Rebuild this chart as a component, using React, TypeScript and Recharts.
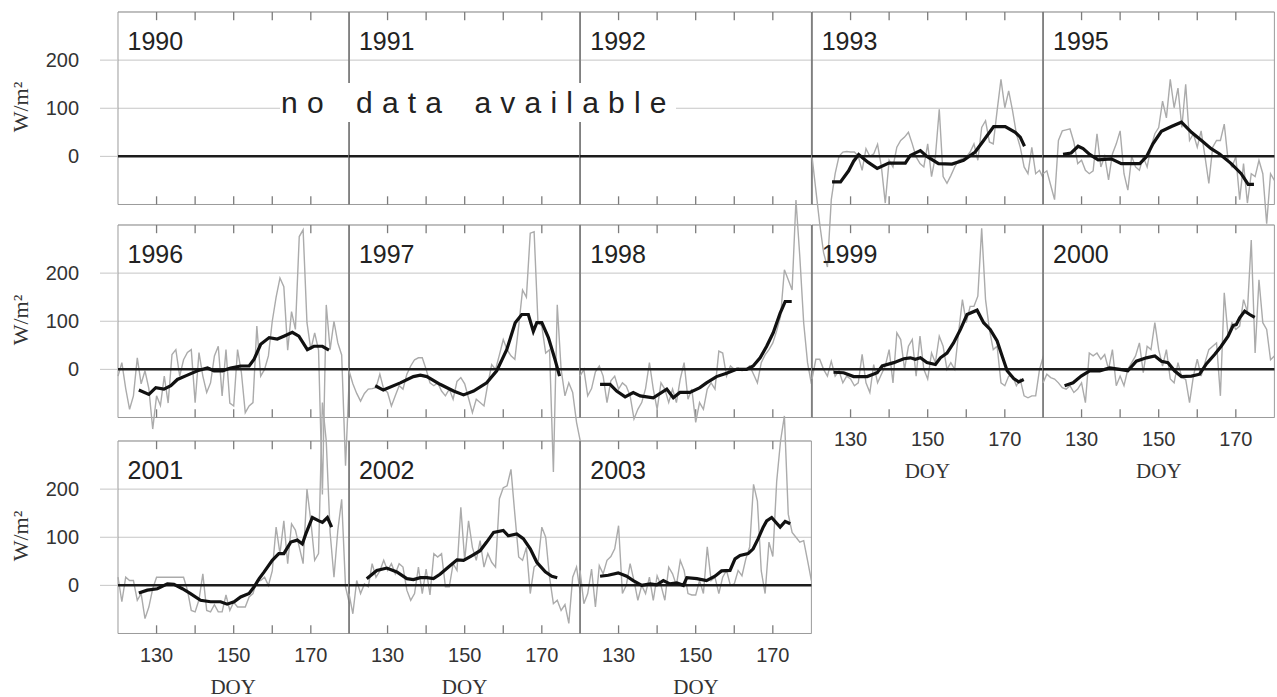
import { CartesianGrid, Line, LineChart, ReferenceArea, ReferenceLine, XAxis, YAxis } from "recharts";

const SANS = "'Liberation Sans', Arial, Helvetica, sans-serif";
const SERIF = "'Liberation Serif', 'Times New Roman', serif";

const FIRST_DOY = 120;
const X_DOMAIN: [number, number] = [120, 180];
const Y_DOMAIN: [number, number] = [-100, 300];
const xTickMarks = [130, 140, 150, 160, 170];
const xTickLabels = [130, 150, 170];
const yTicks = [0, 100, 200];
const TICK_LEN = 17; // inward tick mark length, in W/m²

// daily values (W/m²), DOY 120 .. 180
const gray1993 = [0, -70, -140, -200, -230, -90, -36, 0, 9, 10, 9, 9, 0, -29, 16, 0, 5, 25, -22, -97, -8, -22, 19, 33, 40, 50, 26, -1, -15, -22, 26, -42, 0, 98, -42, -56, -40, -22, -8, -5, -1, 9, 26, -8, 60, 74, 30, 26, 95, 160, 101, 136, 95, 47, 19, -22, -36, 19, -36, -29, -46];
const gray1995 = [-36, -30, -60, -90, 33, 53, 55, 57, 30, -15, -8, -29, -36, -30, 47, -22, 0, -49, 5, 26, 53, -36, -70, 0, -22, -29, -1, -22, 19, 47, 60, 115, 80, 160, 101, 142, 60, 150, 33, 47, 19, 53, 0, -56, 19, 33, 33, 67, -8, -22, -1, -90, -15, -97, -36, -42, -8, -36, -140, -36, -50];
const gray1996 = [-14, 14, -40, -83, -55, 24, -30, -3, -40, -124, -55, -75, -14, -70, 31, 41, -14, 20, 35, 41, -69, 35, -14, -48, -28, 28, 48, -55, 41, -70, -76, 41, -7, -90, -76, -69, 90, -14, 0, 28, 100, 150, 190, 172, 40, 120, 83, 276, 290, 97, 41, 76, 40, -260, 134, 41, 100, 55, 30, -200, -10];
const gray1997 = [-3, -30, -50, -66, -50, -41, -40, -38, -10, -41, -48, -76, -55, -34, -41, -10, 7, 20, 24, 24, 0, -28, -34, -28, -45, -55, -41, -62, -25, -17, -30, -60, -90, -62, -69, -76, -30, 10, 0, 30, 62, 41, 28, 21, 90, 165, 150, 283, 286, 97, 90, 34, 41, -213, 134, 0, -55, -28, -48, -110, -150];
const gray1998 = [-14, 0, -55, -40, -5, 7, -14, -69, -24, -14, -41, -28, -35, -55, -103, -83, -69, -40, 14, -41, -83, -28, -41, -69, -41, -69, -20, 14, -62, -41, -110, -69, -83, -41, -28, -41, 38, 34, -14, 7, 0, 3, -3, 0, 7, -10, -28, 14, 30, 41, 55, 80, 110, 207, 186, 165, 352, 234, 97, 14, -30];
const gray1999 = [-20, 21, 21, 0, -14, 17, -14, -3, -28, -14, -20, -34, -28, 31, -28, -48, 10, -28, -10, 7, 41, -28, 76, 62, 0, 48, 62, -14, 69, 0, -20, 34, 14, 69, 48, 0, 14, 0, 76, 145, 97, 131, 131, 152, 293, 145, 83, 41, 48, -28, -34, -14, -14, -34, -21, -55, -59, -55, -55, 0, 28];
const gray2000 = [-28, -10, -17, -20, -28, -38, -41, -34, -48, -41, -28, -69, 34, 28, 34, 21, 31, 0, 41, -34, -14, -34, 0, 14, 28, 55, -7, 48, 41, 97, 41, 7, 41, -20, -28, 14, -17, -21, -69, -14, 21, -14, 14, 41, 48, 55, -55, 159, 69, 97, 83, 90, 145, 120, 269, 34, 186, 97, 83, 20, 28];
const gray2001 = [17, -34, 17, 10, 10, -31, -17, -69, -45, -7, 17, 17, 17, 17, 17, 17, 17, 17, -10, -52, -55, -30, 24, -52, -55, -40, -55, -55, -20, -52, -35, -45, -45, -45, -24, -17, 10, 10, 17, 0, 30, 121, 66, 134, 45, 128, 115, 80, 45, 200, 134, 52, 66, 380, 300, 110, 17, 114, 179, -3, -38];
const gray2002 = [-17, -59, 10, -17, 3, -3, 45, 17, 30, 52, 31, 45, 24, 45, 38, -10, -31, -17, 38, -17, 34, -20, 66, 59, 66, -3, -3, 45, 31, 162, 52, 134, 79, 52, 93, 38, 66, 48, 38, 180, 203, 207, 241, 148, 59, 52, 79, -17, 38, 45, 121, 100, 17, -38, -31, -52, -40, -79, 17, 38, -17];
const gray2003 = [31, -38, -17, 34, -45, 41, 24, 52, 60, 76, 124, -17, 0, 45, 10, -31, 0, -17, 17, -31, 20, 0, -31, 38, 24, 0, 52, 31, -17, -20, -20, 10, -17, 80, 10, 17, -17, 17, 31, 0, 3, 31, 20, 55, 80, 210, 175, 30, -17, 90, 60, 216, 300, 352, 148, 110, 100, 90, 93, 52, 10];

// smoothed series, [DOY, W/m²]
const smooth1993: [number, number][] = [[125.2, -53], [127.4, -53], [129.5, -30], [130.8, -10], [132.1, 4], [134.5, -12], [136.9, -25], [139.9, -14], [144.2, -14], [145.5, 2], [148.1, 12], [149.8, 0], [152.8, -15], [156.3, -16], [159.3, -8], [162.3, 9], [164.5, 33], [167.1, 62], [170.1, 62], [172.7, 50], [174, 40], [175.1, 21]];
const smooth1995: [number, number][] = [[125.2, 4], [127.3, 7], [129.1, 21], [130.4, 16], [132.1, 4], [134.3, -7], [137.7, -5], [140.3, -15], [145.1, -15], [146.8, -1], [148.5, 26], [150.7, 52], [153.3, 62], [155.9, 71], [158.5, 50], [161.1, 33], [163.6, 16], [165.8, 5], [168.8, -15], [171.4, -36], [173.2, -58], [174.7, -58]];
const smooth1996: [number, number][] = [[125.4, -43], [128, -52], [129.8, -38], [131.9, -41], [133.7, -34], [135.4, -21], [138, -12], [140.6, -3], [143.2, 3], [144.9, -3], [147.1, -3], [149.2, 3], [151.8, 7], [154, 7], [155.3, 21], [157, 52], [159.2, 66], [161.3, 63], [163, 69], [165.2, 77], [166.9, 69], [169.1, 41], [170.8, 48], [173, 48], [174.7, 40]];
const smooth1997: [number, number][] = [[126.8, -34], [128.9, -43], [133.3, -28], [136.7, -15], [138.5, -12], [140.2, -15], [143.6, -31], [147.1, -45], [149.7, -53], [152.3, -45], [155.7, -28], [158.3, -3], [160.9, 41], [163.1, 97], [164.8, 114], [166.5, 114], [167.8, 79], [168.7, 97], [170, 97], [171.7, 66], [173.4, 21], [174.6, -14]];
const smooth1998: [number, number][] = [[125.2, -31], [127.8, -31], [129.5, -45], [131.7, -57], [133.8, -48], [135.6, -55], [139, -59], [142.5, -41], [144.2, -59], [145.9, -48], [148.5, -48], [151.1, -38], [152.8, -28], [155.4, -15], [158, -8], [160.6, 0], [163.2, 0], [164.9, 7], [166.7, 24], [168.4, 48], [170.1, 76], [171.9, 117], [173.2, 141], [174.9, 141]];
const smooth1999: [number, number][] = [[125.6, -6], [128.2, -7], [130.8, -15], [134.3, -15], [136.9, -7], [138.2, 7], [141.2, 14], [143.8, 22], [145.5, 24], [146.8, 21], [148.1, 24], [149.8, 14], [152, 10], [153.3, 24], [155, 34], [156.7, 55], [158.5, 83], [160.2, 114], [162.8, 123], [164.5, 97], [166.2, 83], [168, 59], [169.3, 28], [170.6, -3], [172.3, -19], [173.6, -26], [174.9, -21]];
const smooth2000: [number, number][] = [[125.6, -34], [127.8, -28], [129.9, -14], [132.1, -3], [134.7, -3], [137.3, 3], [139.9, 0], [142, -3], [144.2, 17], [146.8, 24], [149, 28], [150.7, 17], [152.4, 14], [154.1, -3], [155.9, -15], [158.5, -14], [160.6, -10], [162.4, 12], [164.5, 31], [166.2, 48], [168, 69], [169.3, 91], [170.1, 93], [171, 107], [172.3, 121], [173.6, 114], [174.9, 108]];
const smooth2001: [number, number][] = [[125.4, -16], [127.6, -10], [130.2, -7], [132.8, 3], [134.5, 2], [136.7, -7], [138.8, -17], [141.4, -31], [144, -34], [146.6, -34], [148.3, -39], [150.1, -34], [151.8, -24], [154, -17], [155.3, -3], [156.6, 14], [157.9, 28], [160, 52], [161.7, 66], [163, 66], [164.8, 90], [166.5, 94], [167.8, 86], [168.7, 107], [170.4, 141], [172.1, 134], [173, 131], [174.3, 141], [175.4, 121]];
const smooth2002: [number, number][] = [[124.6, 14], [127.2, 31], [129.8, 36], [132.4, 28], [135, 14], [136.7, 12], [138.5, 16], [140.2, 16], [141.9, 14], [143.6, 23], [145.8, 38], [148, 53], [149.7, 52], [151.9, 62], [154, 72], [155.7, 90], [157.5, 110], [160, 114], [161.3, 103], [163.5, 107], [165.2, 97], [167, 76], [168.7, 48], [170.9, 28], [172.6, 19], [174, 16]];
const smooth2003: [number, number][] = [[125.2, 19], [127.3, 21], [129.9, 26], [132.1, 19], [133.8, 10], [136, 0], [138.2, 3], [139.9, 1], [141.6, 10], [143.3, 3], [145.1, 5], [146.8, 0], [147.7, 16], [150.3, 14], [152.8, 10], [155, 19], [156.7, 30], [158.9, 31], [160.2, 55], [161.5, 62], [163.6, 66], [164.9, 76], [166.2, 97], [167.5, 121], [168.4, 134], [169.7, 141], [171, 129], [171.9, 121], [173.2, 133], [174.5, 128]];

// layout of the small multiples (plot area of each panel)
const LEFT = 117.5;
const COL_W = 231.4;
const ROW_TOP = [12, 225, 441];
const ROW_H = 192.5;
const X_AXIS_H = 40;

type Panel = {
  year: string;
  row: number;
  col: number;
  gray?: number[];
  smooth?: [number, number][];
  xLabels?: boolean;
};

const panels: Panel[] = [
  { year: "1990", row: 0, col: 0 },
  { year: "1991", row: 0, col: 1 },
  { year: "1992", row: 0, col: 2 },
  { year: "1993", row: 0, col: 3, gray: gray1993, smooth: smooth1993 },
  { year: "1995", row: 0, col: 4, gray: gray1995, smooth: smooth1995 },
  { year: "1996", row: 1, col: 0, gray: gray1996, smooth: smooth1996 },
  { year: "1997", row: 1, col: 1, gray: gray1997, smooth: smooth1997 },
  { year: "1998", row: 1, col: 2, gray: gray1998, smooth: smooth1998 },
  { year: "1999", row: 1, col: 3, gray: gray1999, smooth: smooth1999, xLabels: true },
  { year: "2000", row: 1, col: 4, gray: gray2000, smooth: smooth2000, xLabels: true },
  { year: "2001", row: 2, col: 0, gray: gray2001, smooth: smooth2001, xLabels: true },
  { year: "2002", row: 2, col: 1, gray: gray2002, smooth: smooth2002, xLabels: true },
  { year: "2003", row: 2, col: 2, gray: gray2003, smooth: smooth2003, xLabels: true },
];

// each inward tick mark is a two-point segment, bottom and top of the frame
const tickSegments = xTickMarks.flatMap((t) => [
  { key: `b${t}`, pts: [{ doy: t, v: Y_DOMAIN[0] }, { doy: t, v: Y_DOMAIN[0] + TICK_LEN }] },
  { key: `t${t}`, pts: [{ doy: t, v: Y_DOMAIN[1] }, { doy: t, v: Y_DOMAIN[1] - TICK_LEN }] },
]);

// the daily curves run outside their own frame in the original figure
const css = `
.recharts-surface { overflow: visible; }
.recharts-wrapper { overflow: visible; }
.recharts-line, .recharts-line * { clip-path: none !important; }
`;

const NoTick = () => <g />;

function YearPanel({ panel }: { panel: Panel }) {
  const left = LEFT + panel.col * COL_W;
  const top = ROW_TOP[panel.row];
  const grayData = (panel.gray ?? []).map((v, i) => ({ doy: FIRST_DOY + i, v }));
  const smoothData = (panel.smooth ?? []).map(([doy, v]) => ({ doy, v }));
  const firstCol = panel.col === 0;
  const w = COL_W + 1; // 1px for the y axis
  const h = ROW_H + X_AXIS_H;
  const axisTick = { fill: "#333", fontSize: 20, fontFamily: SANS };

  return (
    <div style={{ position: "absolute", left: left - 1, top, width: w, height: h }}>
      <LineChart width={w} height={h} margin={{ top: 0, right: 0, bottom: 0, left: 0 }}>
        <CartesianGrid vertical={false} stroke="#c6c6c6" strokeWidth={1} />
        <XAxis
          type="number"
          dataKey="doy"
          domain={X_DOMAIN}
          allowDataOverflow
          ticks={xTickLabels}
          interval={0}
          height={X_AXIS_H}
          axisLine={false}
          tickLine={false}
          tickSize={0}
          tickMargin={14}
          tick={panel.xLabels ? axisTick : NoTick}
        />
        <YAxis
          type="number"
          domain={Y_DOMAIN}
          allowDataOverflow
          ticks={yTicks}
          interval={0}
          width={1}
          axisLine={false}
          tick={firstCol ? axisTick : NoTick}
          tickLine={firstCol ? { stroke: "#c6c6c6" } : false}
          tickSize={18}
          tickMargin={21}
        />
        <ReferenceArea x1={120} x2={180} y1={-100} y2={300} fill="none" fillOpacity={0} stroke="#9c9c9c" strokeWidth={1} ifOverflow="visible" />
        {tickSegments.map((s) => (
          <Line
            key={s.key}
            data={s.pts}
            dataKey="v"
            type="linear"
            stroke="#7c7c7c"
            strokeWidth={1.3}
            dot={false}
            activeDot={false}
            isAnimationActive={false}
          />
        ))}
        {!firstCol && <ReferenceLine x={120} stroke="#6a6a6a" strokeWidth={1.2} ifOverflow="visible" />}
        {panel.gray && (
          <Line data={grayData} dataKey="v" type="linear" stroke="#ababab" strokeWidth={1.4} dot={false} activeDot={false} isAnimationActive={false} />
        )}
        <ReferenceLine y={0} stroke="#1c1c1c" strokeWidth={2.5} ifOverflow="visible" />
        {panel.smooth && (
          <Line data={smoothData} dataKey="v" type="linear" stroke="#111" strokeWidth={3.2} dot={false} activeDot={false} isAnimationActive={false} />
        )}
      </LineChart>
    </div>
  );
}

export default function App() {
  return (
    <div
      style={{
        position: "absolute",
        left: 0,
        top: 0,
        width: 1277,
        height: 697,
        background: "#fff",
        overflow: "hidden",
        fontFamily: SANS,
      }}
    >
      <style>{css}</style>
      {panels.map((p) => (
        <YearPanel key={p.year} panel={p} />
      ))}
      {panels.map((p) => (
        <div
          key={`y${p.year}`}
          style={{
            position: "absolute",
            left: LEFT + p.col * COL_W + 10,
            top: ROW_TOP[p.row] + 16.7,
            fontSize: 25,
            lineHeight: 1,
            color: "#222",
            fontFamily: SANS,
            whiteSpace: "nowrap",
          }}
        >
          {p.year}
        </div>
      ))}
      {ROW_TOP.map((t) => (
        <div
          key={`u${t}`}
          style={{
            position: "absolute",
            left: 21,
            top: t + 95,
            transform: "translate(-50%, -50%) rotate(-90deg)",
            fontSize: 22,
            lineHeight: 1,
            color: "#333",
            fontFamily: SERIF,
            whiteSpace: "nowrap",
          }}
        >
          W/m²
        </div>
      ))}
      {panels
        .filter((p) => p.xLabels)
        .map((p) => (
          <div
            key={`d${p.year}`}
            style={{
              position: "absolute",
              left: LEFT + p.col * COL_W + COL_W / 2 - 50,
              width: 100,
              textAlign: "center",
              top: ROW_TOP[p.row] + ROW_H + 43,
              fontSize: 21,
              lineHeight: 1,
              color: "#333",
              fontFamily: SERIF,
            }}
          >
            DOY
          </div>
        ))}
      <div
        style={{
          position: "absolute",
          left: 280,
          top: 83,
          height: 39,
          lineHeight: "39px",
          paddingLeft: 1,
          background: "#fff",
          fontSize: 30,
          letterSpacing: 9.2,
          wordSpacing: 5.7,
          color: "#222",
          fontFamily: SANS,
          whiteSpace: "nowrap",
        }}
      >
        no data available
      </div>
    </div>
  );
}
